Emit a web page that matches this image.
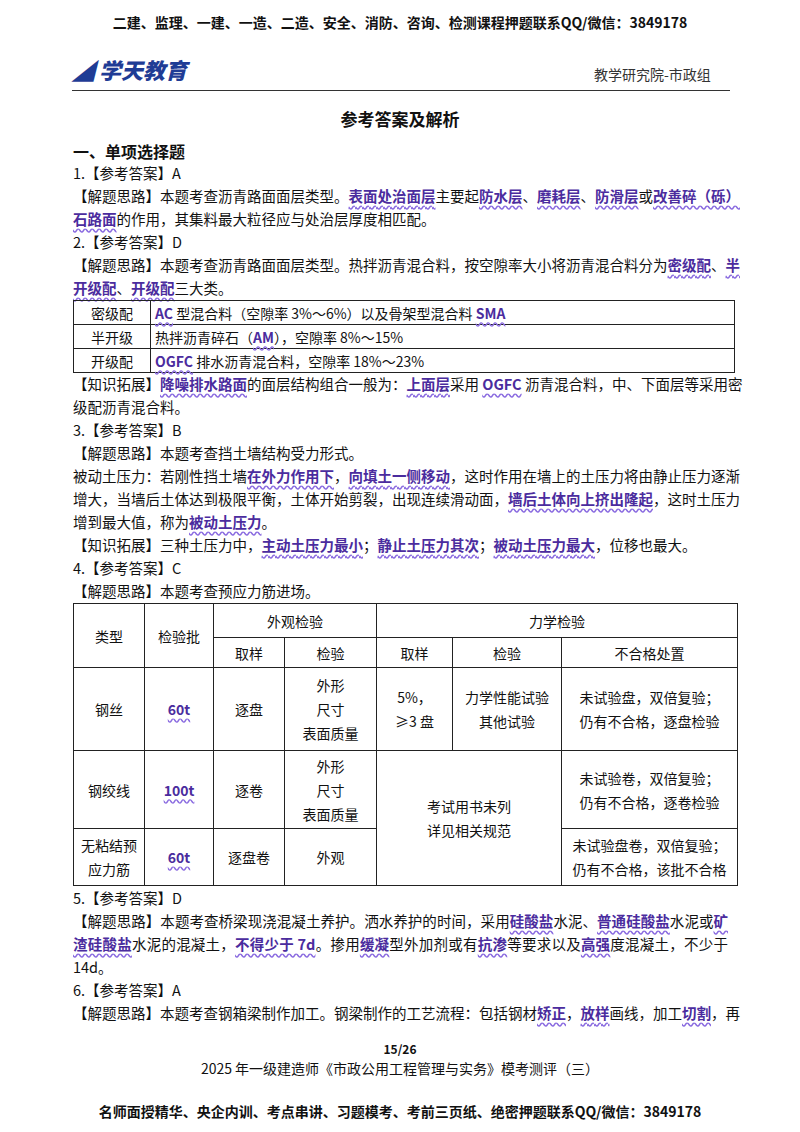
<!DOCTYPE html>
<html><head><meta charset="utf-8">
<script src="https://cdn.jsdelivr.net/npm/chart.js@4"></script>
<style>
body{margin:0;width:800px;height:1132px;background:#fff;font-family:"Noto Sans CJK SC","Noto Sans",sans-serif;color:#111;position:relative;overflow:hidden}
.a{position:absolute;white-space:nowrap}
.l{position:absolute;left:73px;width:655px;font-size:14.5px;line-height:22px;white-space:nowrap}
.j{text-align:justify;text-align-last:justify}
.k{color:#4b2c9e;font-weight:bold;text-decoration:underline wavy #8a6be0;text-underline-offset:3px}
table{position:absolute;border-collapse:collapse;font-size:14px}
td{border:1px solid #222;text-align:center;padding:0 4px}
</style></head><body>
<div class="a" style="top:12px;left:0;width:800px;text-align:center;font-size:14px;font-weight:bold">二建、监理、一建、一造、二造、安全、消防、咨询、检测课程押题联系QQ/微信：3849178</div>
<div class="a" style="top:53px;left:72px;font-size:22px;font-weight:900;color:#1f3c95;font-style:italic">◢ 学天教育</div>
<div class="a" style="top:64px;left:594px;font-size:14px;color:#333">教学研究院-市政组</div>
<div class="a" style="top:90px;left:72px;width:658px;border-top:1px solid #333"></div>
<div class="a" style="top:106px;left:0;width:800px;text-align:center;font-size:17px;font-weight:bold">参考答案及解析</div>
<div class="l" style="top:140px;font-weight:bold;font-size:16px">一、单项选择题</div>
<div class="l" style="top:162px">1.【参考答案】A</div>
<div class="l j" style="top:185px">【解题思路】本题考查沥青路面面层类型。<span class="k">表面处治面层</span>主要起<span class="k">防水层</span>、<span class="k">磨耗层</span>、<span class="k">防滑层</span>或<span class="k">改善碎（砾）</span></div>
<div class="l" style="top:208px"><span class="k">石路面</span>的作用，其集料最大粒径应与处治层厚度相匹配。</div>
<div class="l" style="top:231px">2.【参考答案】D</div>
<div class="l j" style="top:254px">【解题思路】本题考查沥青路面面层类型。热拌沥青混合料，按空隙率大小将沥青混合料分为<span class="k">密级配</span>、<span class="k">半</span></div>
<div class="l" style="top:277px"><span class="k">开级配</span>、<span class="k">开级配</span>三大类。</div>
<table style="top:300px;left:73px;width:662px">
<tr style="height:24px"><td style="width:68px">密级配</td><td style="text-align:left"><span class="k">AC</span> 型混合料（空隙率 3%～6%）以及骨架型混合料 <span class="k">SMA</span></td></tr>
<tr style="height:24px"><td>半开级</td><td style="text-align:left">热拌沥青碎石（<span class="k">AM</span>），空隙率 8%～15%</td></tr>
<tr style="height:24px"><td>开级配</td><td style="text-align:left"><span class="k">OGFC</span> 排水沥青混合料，空隙率 18%～23%</td></tr>
</table>
<div class="l j" style="top:373px">【知识拓展】<span class="k">降噪排水路面</span>的面层结构组合一般为：<span class="k">上面层</span>采用 <span class="k">OGFC</span> 沥青混合料，中、下面层等采用密</div>
<div class="l" style="top:396px">级配沥青混合料。</div>
<div class="l" style="top:419px">3.【参考答案】B</div>
<div class="l" style="top:442px">【解题思路】本题考查挡土墙结构受力形式。</div>
<div class="l j" style="top:465px">被动土压力：若刚性挡土墙<span class="k">在外力作用下</span>，<span class="k">向填土一侧移动</span>，这时作用在墙上的土压力将由静止压力逐渐</div>
<div class="l j" style="top:488px">增大，当墙后土体达到极限平衡，土体开始剪裂，出现连续滑动面，<span class="k">墙后土体向上挤出隆起</span>，这时土压力</div>
<div class="l" style="top:511px">增到最大值，称为<span class="k">被动土压力</span>。</div>
<div class="l" style="top:534px">【知识拓展】三种土压力中，<span class="k">主动土压力最小</span>；<span class="k">静止土压力其次</span>；<span class="k">被动土压力最大</span>，位移也最大。</div>
<div class="l" style="top:557px">4.【参考答案】C</div>
<div class="l" style="top:580px">【解题思路】本题考查预应力筋进场。</div>
<table style="top:603px;left:73px;width:665px;line-height:24px">
<tr style="height:34px"><td rowspan="2" style="width:62px">类型</td><td rowspan="2" style="width:60px">检验批</td><td colspan="2">外观检验</td><td colspan="3">力学检验</td></tr>
<tr style="height:30px"><td style="width:62px">取样</td><td style="width:83px">检验</td><td style="width:67px">取样</td><td style="width:100px">检验</td><td>不合格处置</td></tr>
<tr style="height:83px"><td>钢丝</td><td><span class="k">60t</span></td><td>逐盘</td><td>外形<br>尺寸<br>表面质量</td><td>5%，<br>≥3 盘</td><td>力学性能试验<br>其他试验</td><td>未试验盘，双倍复验；<br>仍有不合格，逐盘检验</td></tr>
<tr style="height:78px"><td>钢绞线</td><td><span class="k">100t</span></td><td>逐卷</td><td>外形<br>尺寸<br>表面质量</td><td colspan="2" rowspan="2">考试用书未列<br>详见相关规范</td><td>未试验卷，双倍复验；<br>仍有不合格，逐卷检验</td></tr>
<tr style="height:57px"><td>无粘结预<br>应力筋</td><td><span class="k">60t</span></td><td>逐盘卷</td><td>外观</td><td>未试验盘卷，双倍复验；<br>仍有不合格，该批不合格</td></tr>
</table>
<div class="l" style="top:887px">5.【参考答案】D</div>
<div class="l j" style="top:910px">【解题思路】本题考查桥梁现浇混凝土养护。洒水养护的时间，采用<span class="k">硅酸盐</span>水泥、<span class="k">普通硅酸盐</span>水泥或<span class="k">矿</span></div>
<div class="l j" style="top:933px"><span class="k">渣硅酸盐</span>水泥的混凝土，<span class="k">不得少于 7d</span>。掺用<span class="k">缓凝</span>型外加剂或有<span class="k">抗渗</span>等要求以及<span class="k">高强</span>度混凝土，不少于</div>
<div class="l" style="top:956px">14d。</div>
<div class="l" style="top:979px">6.【参考答案】A</div>
<div class="l j" style="top:1002px">【解题思路】本题考查钢箱梁制作加工。钢梁制作的工艺流程：包括钢材<span class="k">矫正</span>，<span class="k">放样</span>画线，加工<span class="k">切割</span>，再</div>
<div class="a" style="top:1040px;left:0;width:800px;text-align:center;font-size:12px;font-weight:bold">15/26</div>
<div class="a" style="top:1058px;left:0;width:800px;text-align:center;font-size:14px">2025 年一级建造师《市政公用工程管理与实务》模考测评（三）</div>
<div class="a" style="top:1101px;left:0;width:800px;text-align:center;font-size:14px;font-weight:bold">名师面授精华、央企内训、考点串讲、习题模考、考前三页纸、绝密押题联系QQ/微信：3849178</div>
</body></html>
